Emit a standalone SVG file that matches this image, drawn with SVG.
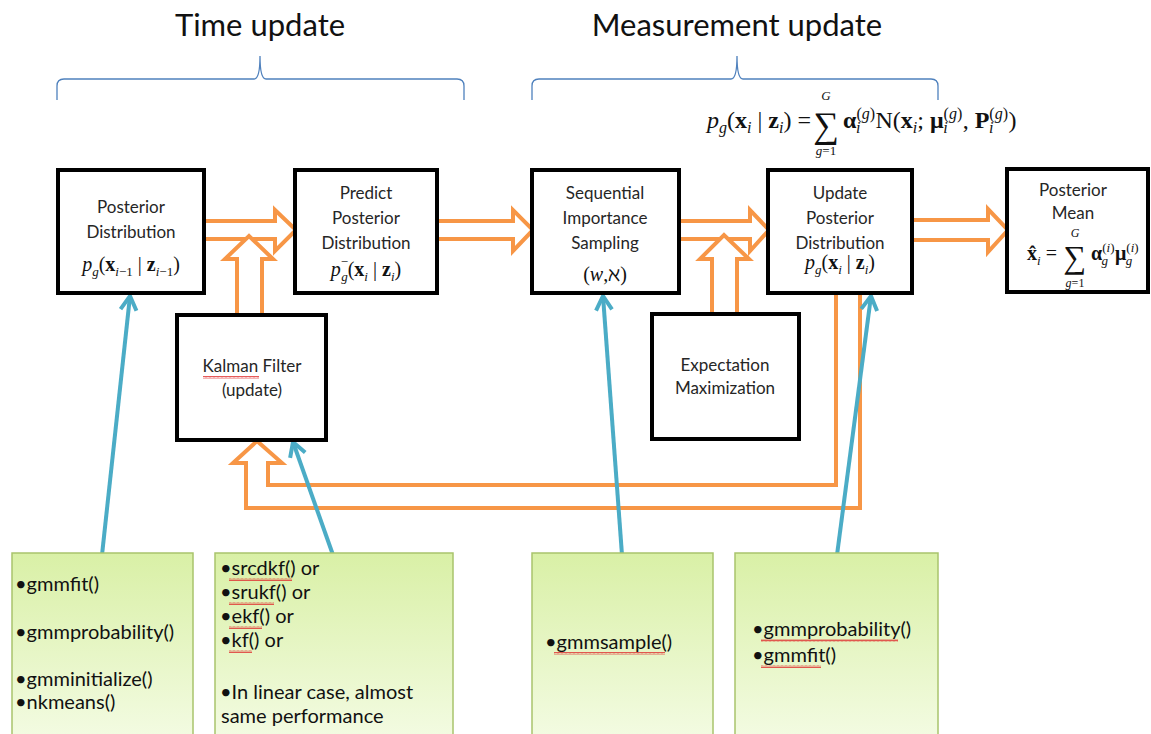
<svg xmlns="http://www.w3.org/2000/svg" width="1151" height="734" viewBox="0 0 1151 734">
<defs>
<style>
.box{fill:#fff;stroke:#000;stroke-width:4}
.lbl{font-family:Lato,"Open Sans",sans-serif;font-size:17px;fill:#262626;text-anchor:middle}
.title{font-family:Lato,"Open Sans",sans-serif;font-size:31px;fill:#111;text-anchor:middle}
.note{font-family:Lato,"Open Sans",sans-serif;font-size:20px;fill:#111}
.math{font-family:"Liberation Serif","DejaVu Serif",serif;font-size:20px;fill:#111}
.big{font-size:24px}
.it{font-style:italic}
.bf{font-weight:bold}
.sb{font-size:13px}
.sb2{font-size:16px}
.oa{fill:#fff;stroke:#F79646;stroke-width:4;stroke-linejoin:miter}
.ba{stroke:#4BACC6;stroke-width:4;fill:none;marker-end:url(#bh)}
.brace{fill:none;stroke:#4F81BD;stroke-width:1.3}
.green{fill:url(#gg);stroke:#A9C46C;stroke-width:1.5}
.sq{fill:url(#squig)}
</style>
<linearGradient id="gg" x1="0" y1="0" x2="0" y2="1">
<stop offset="0" stop-color="#D9F0A6"/>
<stop offset="1" stop-color="#F3FBE2"/>
</linearGradient>
<pattern id="squig" width="4" height="3" patternUnits="userSpaceOnUse">
<path d="M0,2.5 L1,0.5 L2,2.5 L3,0.5 L4,2.5" fill="none" stroke="#E03030" stroke-width="0.8"/>
</pattern>
<marker id="bh" viewBox="0 0 20 20" refX="17" refY="10" markerWidth="20" markerHeight="20" markerUnits="userSpaceOnUse" orient="auto">
<path d="M3,2 L17,10 L3,18" fill="none" stroke="#4BACC6" stroke-width="4"/>
</marker>
</defs>
<rect width="1151" height="734" fill="#fff"/>

<g id="titles">
<text class="title" x="260" y="36">Time update</text>
<text class="title" x="737" y="36">Measurement update</text>
<path class="brace" d="M57,100 L57,86 Q57,79 64,79 L254,79 Q260,79 260,56 Q260,79 266,79 L457,79 Q464,79 464,86 L464,100"/>
<path class="brace" d="M532,100 L532,86 Q532,79 539,79 L731,79 Q737,79 737,56 Q737,79 743,79 L931,79 Q938,79 938,86 L938,100"/>
</g>

<g id="formula-top">
<text class="math big" x="811" y="128" text-anchor="end"><tspan class="it">p</tspan><tspan class="sb2 it" dy="5">g</tspan><tspan dy="-5">(</tspan><tspan class="bf">x</tspan><tspan class="sb2 it" dy="5">i</tspan><tspan dy="-5"> | </tspan><tspan class="bf">z</tspan><tspan class="sb2 it" dy="5">i</tspan><tspan dy="-5">) =</tspan></text>
<text class="math" x="826" y="137" style="font-size:36px" text-anchor="middle">∑</text>
<text class="math it" x="826" y="100" style="font-size:13px" text-anchor="middle">G</text>
<text class="math" x="826" y="155" style="font-size:13px" text-anchor="middle"><tspan class="it">g</tspan>=1</text>
<text class="math big" x="843" y="128"><tspan class="bf">α</tspan><tspan class="sb2" dy="-9">(<tspan class="it">g</tspan>)</tspan><tspan class="sb2 it" dx="-19" dy="14">i</tspan><tspan dx="15" dy="-5">N(</tspan><tspan class="bf">x</tspan><tspan class="sb2 it" dy="5">i</tspan><tspan dy="-5">; </tspan><tspan class="bf">μ</tspan><tspan class="sb2" dy="-9">(<tspan class="it">g</tspan>)</tspan><tspan class="sb2 it" dx="-19" dy="14">i</tspan><tspan dx="15" dy="-5">, </tspan><tspan class="bf">P</tspan><tspan class="sb2" dy="-9">(<tspan class="it">g</tspan>)</tspan><tspan class="sb2 it" dx="-19" dy="14">i</tspan><tspan dx="15" dy="-5">)</tspan></text>
</g>

<g id="connectors">
<polygon class="oa" points="204,221 275,221 275,210 296,230 275,251 275,239 204,239"/>
<polygon class="oa" points="437,221 513,221 513,210 533,230 513,251 513,239 437,239"/>
<polygon class="oa" points="679,221 750,221 750,210 769,230 750,251 750,239 679,239"/>
<polygon class="oa" points="912,220 988,220 988,209 1008,230 988,252 988,240 912,240"/>
<polygon class="oa" points="237,315 237,259 225,259 249,236 273,259 262,259 262,315"/>
<polygon class="oa" points="712,314 712,259 700,259 724,235 749,259 737,259 737,314"/>
<polygon class="oa" points="257,441 282,463 268,463 268,485 836,485 836,293 860,293 860,508 246,508 246,463 233,463"/>
<line class="ba" x1="102" y1="555" x2="130" y2="296"/>
<line class="ba" x1="333" y1="555" x2="293" y2="442"/>
<line class="ba" x1="622" y1="555" x2="603" y2="296"/>
<line class="ba" x1="837" y1="555" x2="871" y2="296"/>
</g>

<g id="posterior">
<rect class="box" x="58" y="170" width="146" height="123"/>
<text class="lbl" x="131" y="213">Posterior</text>
<text class="lbl" x="131" y="238">Distribution</text>
<text class="math" x="131" y="271" text-anchor="middle"><tspan class="it">p</tspan><tspan class="sb it" dy="5">g</tspan><tspan dy="-5">(</tspan><tspan class="bf">x</tspan><tspan class="sb" dy="5"><tspan class="it">i</tspan>−1</tspan><tspan dy="-5"> | </tspan><tspan class="bf">z</tspan><tspan class="sb" dy="5"><tspan class="it">i</tspan>−1</tspan><tspan dy="-5">)</tspan></text>
</g>

<g id="predict">
<rect class="box" x="295" y="170" width="142" height="123"/>
<text class="lbl" x="366" y="199">Predict</text>
<text class="lbl" x="366" y="224">Posterior</text>
<text class="lbl" x="366" y="249">Distribution</text>
<text class="math" x="366" y="276" text-anchor="middle"><tspan class="it">p</tspan><tspan class="sb" dy="-10">−</tspan><tspan class="sb it" dx="-7" dy="15">g</tspan><tspan dy="-5">(</tspan><tspan class="bf">x</tspan><tspan class="sb it" dy="5">i</tspan><tspan dy="-5"> | </tspan><tspan class="bf">z</tspan><tspan class="sb it" dy="5">i</tspan><tspan dy="-5">)</tspan></text>
</g>

<g id="sis">
<rect class="box" x="532" y="170" width="147" height="123"/>
<text class="lbl" x="605" y="199">Sequential</text>
<text class="lbl" x="605" y="224">Importance</text>
<text class="lbl" x="605" y="249">Sampling</text>
<text class="math" x="605" y="281" text-anchor="middle">(<tspan class="it">w</tspan>,ℵ)</text>
</g>

<g id="update">
<rect class="box" x="768" y="170" width="144" height="123"/>
<text class="lbl" x="840" y="199">Update</text>
<text class="lbl" x="840" y="224">Posterior</text>
<text class="lbl" x="840" y="249">Distribution</text>
<text class="math" x="840" y="269" text-anchor="middle"><tspan class="it">p</tspan><tspan class="sb it" dy="5">g</tspan><tspan dy="-5">(</tspan><tspan class="bf">x</tspan><tspan class="sb it" dy="5">i</tspan><tspan dy="-5"> | </tspan><tspan class="bf">z</tspan><tspan class="sb it" dy="5">i</tspan><tspan dy="-5">)</tspan></text>
</g>

<g id="mean">
<rect class="box" x="1007" y="169" width="141" height="123"/>
<text class="lbl" x="1073" y="196">Posterior</text>
<text class="lbl" x="1073" y="219">Mean</text>
<text class="math" x="1057" y="260" text-anchor="end"><tspan class="bf">x̂</tspan><tspan class="sb it" dy="5">i</tspan><tspan dy="-5"> =</tspan></text>
<text class="math" x="1075" y="268" style="font-size:32px" text-anchor="middle">∑</text>
<text class="math it" x="1075" y="237" style="font-size:12px" text-anchor="middle">G</text>
<text class="math" x="1075" y="287" style="font-size:12px" text-anchor="middle"><tspan class="it">g</tspan>=1</text>
<text class="math" x="1091" y="260"><tspan class="bf">α</tspan><tspan class="sb" dy="-8">(<tspan class="it">i</tspan>)</tspan><tspan class="sb it" dx="-13" dy="13">g</tspan><tspan class="bf" dx="7" dy="-5">μ</tspan><tspan class="sb" dy="-8">(<tspan class="it">i</tspan>)</tspan><tspan class="sb it" dx="-13" dy="13">g</tspan></text>
</g>

<g id="kalman">
<rect class="box" x="177" y="315" width="149" height="125"/>
<text class="lbl" x="252" y="372">Kalman Filter</text>
<text class="lbl" x="252" y="396">(update)</text>
<rect class="sq" x="203" y="376" width="56" height="3"/>
</g>

<g id="em">
<rect class="box" x="652" y="314" width="147" height="125"/>
<text class="lbl" x="725" y="371">Expectation</text>
<text class="lbl" x="725" y="394">Maximization</text>
</g>

<g id="note1">
<rect class="green" x="12" y="553" width="181" height="185"/>
<text class="note" x="15" y="591">•gmmfit()</text>
<text class="note" x="15" y="639">•gmmprobability()</text>
<text class="note" x="15" y="686">•gmminitialize()</text>
<text class="note" x="15" y="709">•nkmeans()</text>
</g>

<g id="note2">
<rect class="green" x="215" y="553" width="238" height="185"/>
<text class="note" x="220" y="575">•srcdkf() or</text>
<text class="note" x="220" y="599">•srukf() or</text>
<text class="note" x="220" y="623">•ekf() or</text>
<text class="note" x="220" y="647">•kf() or</text>
<text class="note" x="220" y="699">•In linear case, almost</text>
<text class="note" x="221" y="723">same performance</text>
<rect class="sq" x="229" y="578" width="63" height="3"/>
<rect class="sq" x="229" y="602" width="45" height="3"/>
<rect class="sq" x="229" y="626" width="33" height="3"/>
<rect class="sq" x="229" y="650" width="23" height="3"/>
</g>

<g id="note3">
<rect class="green" x="532" y="553" width="181" height="185"/>
<text class="note" x="545" y="649">•gmmsample()</text>
<rect class="sq" x="554" y="652" width="111" height="3"/>
</g>

<g id="note4">
<rect class="green" x="735" y="553" width="203" height="185"/>
<text class="note" x="752" y="636">•gmmprobability()</text>
<text class="note" x="752" y="662">•gmmfit()</text>
<rect class="sq" x="761" y="639" width="137" height="3"/>
<rect class="sq" x="761" y="665" width="60" height="3"/>
</g>
</svg>
